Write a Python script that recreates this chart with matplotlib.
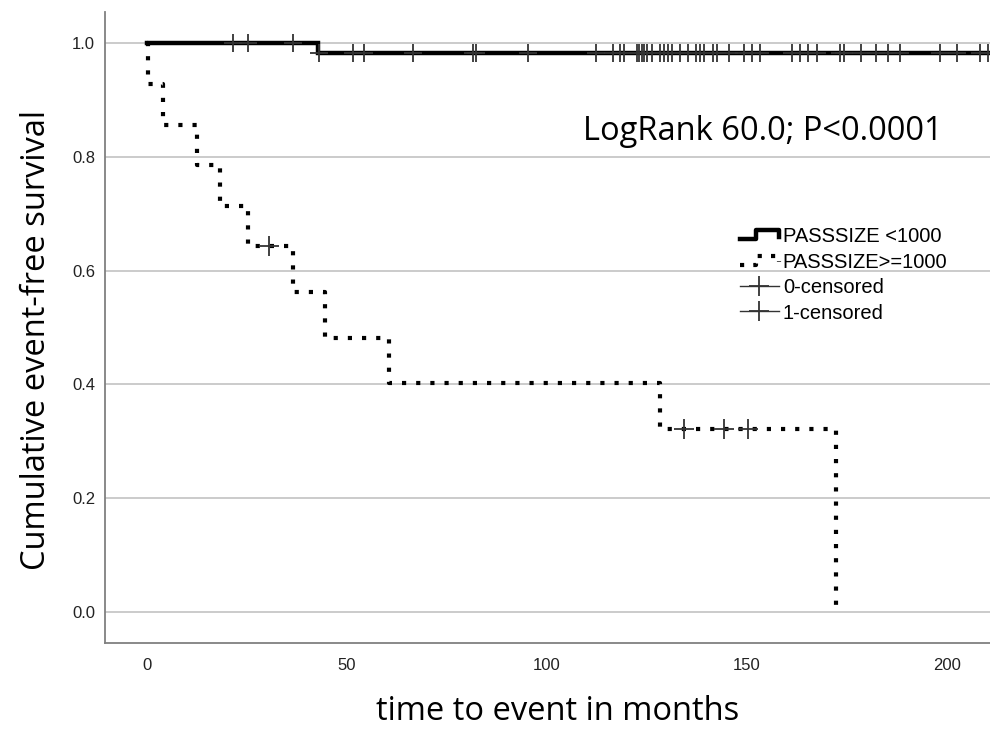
import numpy as np
import matplotlib.pyplot as plt
from matplotlib.lines import Line2D
from matplotlib.legend_handler import HandlerBase

# ---------------------------------------------------
# DATA
# ---------------------------------------------------

# PASSSIZE < 1000: step times and survival levels
small_times = [0, 42.8]
small_surv = [1.0, 0.983]
small_censored = [
    21.4, 25.3, 36.4, 43.0, 51.4, 54.3, 66.4, 81.4, 82.2, 95.3,
    112.2, 116.4, 118.2, 119.3, 122.4, 123.1, 123.7, 124.3, 125.1, 126.3,
    128.2, 129.2, 130.2, 131.3, 133.2, 135.3, 137.2, 138.2, 139.3, 141.4,
    142.4, 145.5, 149.3, 151.3, 153.2, 161.3, 163.2, 165.3, 167.4, 173.2,
    174.3, 178.4, 182.2, 185.3, 188.2, 198.2, 202.4, 208.2, 210.3,
]

# PASSSIZE >= 1000
large_times = [0, 0.3, 4.1, 12.4, 18.3, 25.3, 36.4, 44.5, 60.4, 128.2, 172.3]
large_surv = [1.0, 0.929, 0.857, 0.786, 0.714, 0.643, 0.563, 0.482, 0.402, 0.321, 0.0]
large_censored = [30.5, 134.3, 144.3, 150.3]

x_ticks = [0, 50, 100, 150, 200]
y_ticks = [0.0, 0.2, 0.4, 0.6, 0.8, 1.0]


def level_at(times, surv, t):
    idx = np.searchsorted(times, t, side="right") - 1
    return np.asarray(surv)[idx]


class StepHandler(HandlerBase):
    # small step-shaped legend icon like SPSS draws
    def create_artists(self, legend, orig_handle, xdescent, ydescent,
                       width, height, fontsize, trans):
        x0 = -xdescent
        y0 = -ydescent
        xs = [x0, x0 + 0.42 * width, x0 + 0.42 * width, x0 + width, x0 + width]
        ys = [y0 + 0.2 * height, y0 + 0.2 * height, y0 + 0.85 * height,
              y0 + 0.85 * height, y0 + 0.4 * height]
        line = Line2D(xs, ys)
        line.update_from(orig_handle)
        line.set_data(xs, ys)
        line.set_transform(trans)
        line.set_dash_capstyle("butt")
        return [line]


# ---------------------------------------------------
# FIGURE
# ---------------------------------------------------

fig = plt.figure(figsize=(9.9, 7.33), dpi=100)
ax = fig.add_axes([0.106, 0.1228, 0.894, 0.8608])

ax.set_xlim(-10.5, 210.75)
ax.set_ylim(-0.055, 1.055)

for y in y_ticks:
    ax.axhline(y, color="#bdbdbd", linewidth=1.1, zorder=0)

# survival curves
ax.step(small_times + [215], small_surv + [small_surv[-1]], where="post",
        color="black", linewidth=3.2, solid_joinstyle="miter", zorder=3)

dotted, = ax.step(large_times, large_surv, where="post",
                  color="black", linewidth=3.0, linestyle=(0, (1, 2.4)),
                  zorder=3)
dotted.set_dash_capstyle("butt")

# censor marks
ax.plot(small_censored, level_at(small_times, small_surv, small_censored),
        linestyle="none", marker="+", markersize=13, markeredgewidth=1.3,
        color="#333333", zorder=4)
ax.plot(large_censored, level_at(large_times, large_surv, large_censored),
        linestyle="none", marker="+", markersize=14, markeredgewidth=1.3,
        color="#333333", zorder=4)

# axes style
for side in ["top", "right"]:
    ax.spines[side].set_visible(False)
for side in ["left", "bottom"]:
    ax.spines[side].set_color("#808080")
    ax.spines[side].set_linewidth(1.3)

ax.set_xticks(x_ticks)
ax.set_yticks(y_ticks)
ax.set_yticklabels([f"{v:.1f}" for v in y_ticks])
ax.tick_params(axis="both", length=0, labelsize=12, labelcolor="#222222")
ax.tick_params(axis="y", pad=7)
ax.tick_params(axis="x", pad=11)
for lab in ax.get_xticklabels() + ax.get_yticklabels():
    lab.set_family("Liberation Sans")

ax.set_xlabel("time to event in months", fontsize=23.5, family="Open Sans",
              labelpad=16)
ax.set_ylabel("Cumulative event-free survival", fontsize=23.5,
              family="Open Sans", labelpad=14)
ax.xaxis.label.set_x(0.512)
ax.yaxis.label.set_y(0.48)

ax.text(0.946, 0.810, "LogRank 60.0; P<0.0001", transform=ax.transAxes,
        fontsize=23.5, family="Open Sans", ha="right", va="center")

# legend
h_small = Line2D([], [], color="black", linewidth=3.2)
h_large = Line2D([], [], color="black", linewidth=3.0, linestyle=(0, (1, 2.2)))
h_c0 = Line2D([], [], color="#333333", linewidth=1.0, marker="+",
              markersize=15, markeredgewidth=1.3)
h_c1 = Line2D([], [], color="#333333", linewidth=1.0, marker="+",
              markersize=15, markeredgewidth=1.3)

leg = ax.legend(
    [h_small, h_large, h_c0, h_c1],
    ["PASSSIZE <1000", "PASSSIZE>=1000", "0-censored", "1-censored"],
    handler_map={h_small: StepHandler(), h_large: StepHandler()},
    loc="upper left",
    bbox_to_anchor=(0.717, 0.659),
    frameon=False,
    handlelength=1.95,
    handletextpad=0.2,
    labelspacing=0.32,
    borderaxespad=0,
    borderpad=0,
    prop={"family": "Liberation Sans", "size": 14.5},
)

plt.savefig("out.png", dpi=100)
